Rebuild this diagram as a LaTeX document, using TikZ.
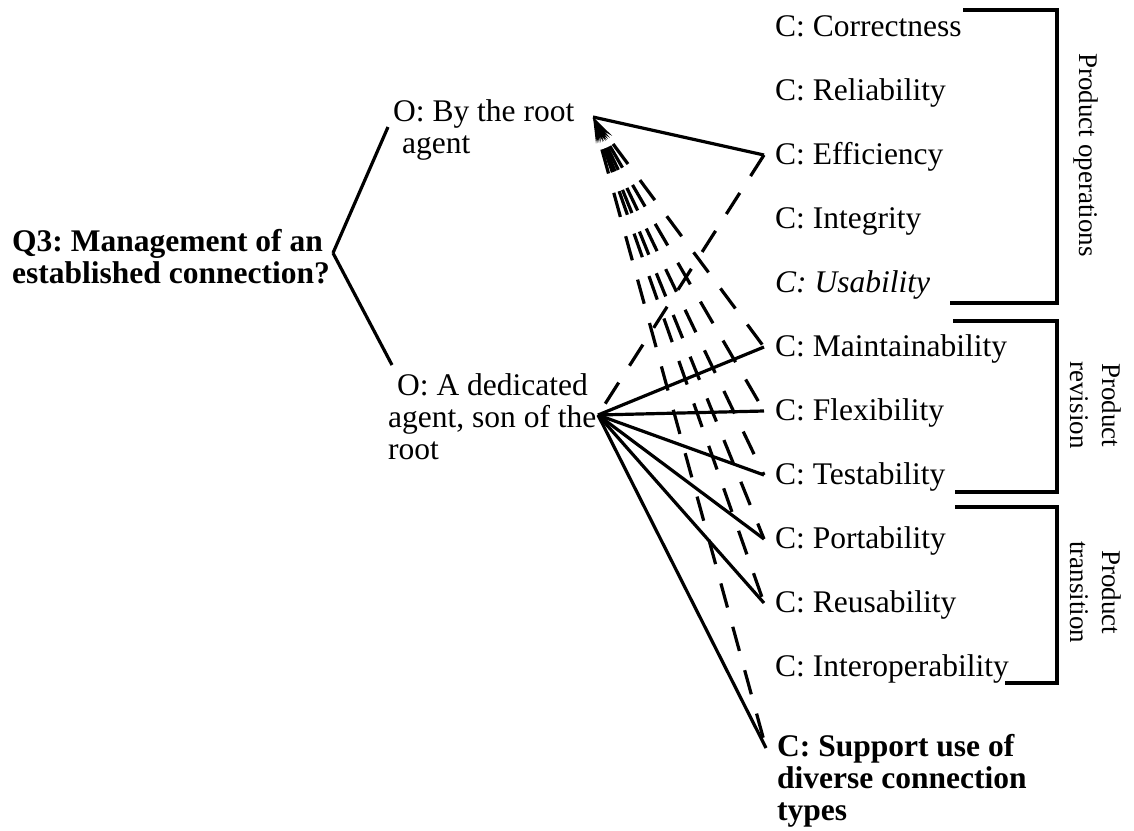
\documentclass[tikz,border=0pt]{standalone}
\usepackage{fontspec}
\setmainfont{Liberation Serif}
\usetikzlibrary{arrows.meta}
\frenchspacing
\newcommand\bigf{\fontsize{31.5}{32}\selectfont}
\newcommand\labf{\fontsize{27}{32}\selectfont}
\newcommand\cw[1]{([shift={(-11,-9)}]#1.base west)}
\begin{document}
\begin{tikzpicture}[x=1pt,y=-1pt,
  txt/.style={inner sep=0pt, anchor=base west, font=\bigf, align=left},
  lab/.style={inner sep=0pt, font=\labf, align=center, rotate=-90},
  link/.style={line width=3.2pt},
  dlink/.style={line width=3.2pt, dash pattern=on 25pt off 20pt},
  brk/.style={line width=3.2pt}]
\useasboundingbox (0,0) rectangle (1134,830);

% root question and options (base anchor = last line's baseline)
\node[txt, font=\bigf\bfseries] (q3) at (12,283) {Q3: Management of an\\established connection?};
\node[txt] (o1) at (393,153) {O: By the root\\\hspace*{9pt}agent};
\node[txt] (o2) at (388,459) {\hspace*{9pt}O: A dedicated\\agent, son of the\\root};

% criteria
\node[txt] (cC)  at (775,36)  {C: Correctness};
\node[txt] (cR)  at (775,100) {C: Reliability};
\node[txt] (cE)  at (775,164) {C: Efficiency};
\node[txt] (cI)  at (775,228) {C: Integrity};
\node[txt, font=\bigf\itshape] (cU) at (775,292) {C: Usability};
\node[txt] (cM)  at (775,356) {C: Maintainability};
\node[txt] (cF)  at (775,420) {C: Flexibility};
\node[txt] (cT)  at (775,484) {C: Testability};
\node[txt] (cP)  at (775,548) {C: Portability};
\node[txt] (cRe) at (775,612) {C: Reusability};
\node[txt] (cIn) at (775,676) {C: Interoperability};
\node[txt, font=\bigf\bfseries] (cS) at (777,820) {C: Support use of\\diverse connection\\types};

% junction points
\coordinate (qj) at (333,253);
\coordinate (o1in) at (388,127);
\coordinate (o2in) at (392,365);
\coordinate (rj) at (593,117);
\coordinate (dj) at (598,415);
\coordinate (sj) at (766,748);

% tree lines
\draw[link] (qj) -- (o1in);
\draw[link] (qj) -- (o2in);

% solid contributions
\draw[link] \cw{cE} -- (rj);
\foreach \n in {cM,cF,cT,cP,cRe}
  \draw[link] (dj) -- \cw{\n};
\draw[link] (dj) -- (sj);

% dashed contributions
\draw[dlink] \cw{cE} -- (dj);
\foreach \n in {cM,cF,cT,cP,cRe}
  \draw[dlink, dash phase=26pt, {Stealth[length=26pt,width=8pt]}-] (rj) -- \cw{\n};
\draw[dlink, dash phase=26pt, {Stealth[length=26pt,width=8pt]}-] (rj) -- (sj);

% brackets
\draw[brk] (963,10) -- (1057,10) -- (1057,303) -- (950,303);
\draw[brk] (953,321) -- (1057,321) -- (1057,492) -- (955,492);
\draw[brk] (955,507) -- (1057,507) -- (1057,683) -- (1005,683);

% bracket labels
\node[lab] (po) at (1086,155) {Product operations};
\node[lab] (pr) at (1096,405) {Product\\revision};
\node[lab] (pt) at (1096,592) {Product\\transition};
\end{tikzpicture}
\end{document}
